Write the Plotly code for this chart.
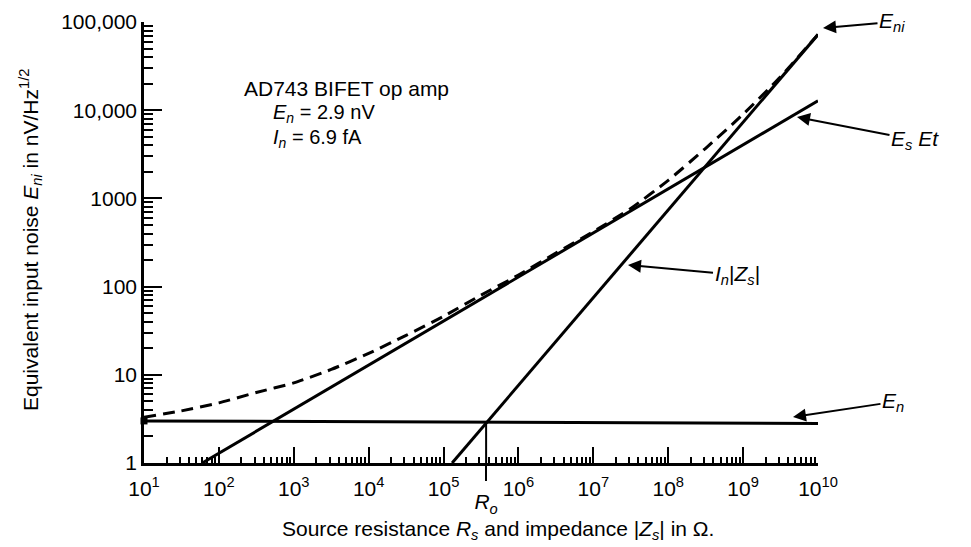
import plotly.graph_objects as go

# ---- data ----
en_x = [10, 1e10]
en_y = [3.0, 2.8]                      # E_n line (op-amp voltage noise)
et_x = [60, 1e10]
et_y = [1, 12800]                      # thermal noise E_t
in_x = [1.3e5, 1e10]
in_y = [1, 72000]                      # I_n|Z_s|
eni_x = [10, 31.6, 100, 316, 1000, 3162, 1e4, 3.16e4, 1e5, 3.16e5, 1e6,
         3.16e6, 1e7, 3.16e7, 1e8, 3.16e8, 1e9, 3.16e9, 1e10]
eni_y = [3.3, 3.9, 4.8, 6.3, 8.1, 11.5, 17.5, 28, 46, 80, 135,
         240, 420, 770, 1600, 3700, 9000, 24000, 72000]   # total E_ni (dashed)
ro_x = [3.7e5, 3.7e5]
ro_y = [2.9, 1]

y_tickvals = [1, 10, 100, 1000, 10000, 100000]
y_ticktext = ["1", "10", "100", "1000", "10,000", "100,000"]
x_tickvals = [10 ** e for e in range(1, 11)]
x_ticktext = [f"10<sup>{e}</sup>" for e in range(1, 11)]

FONT = "Liberation Sans"
FS = 21
BLACK = "black"

fig = go.Figure()
fig.add_trace(go.Scatter(x=en_x, y=en_y, mode="lines",
                         line=dict(color=BLACK, width=3), showlegend=False))
fig.add_trace(go.Scatter(x=en_x[:1], y=en_y[:1], mode="markers",
                         marker=dict(symbol="square", size=7, color=BLACK),
                         showlegend=False, cliponaxis=False))
fig.add_trace(go.Scatter(x=et_x, y=et_y, mode="lines",
                         line=dict(color=BLACK, width=3), showlegend=False))
fig.add_trace(go.Scatter(x=in_x, y=in_y, mode="lines",
                         line=dict(color=BLACK, width=3), showlegend=False))
fig.add_trace(go.Scatter(x=eni_x, y=eni_y, mode="lines",
                         line=dict(color=BLACK, width=3, dash="12px,7px",
                                   shape="spline", smoothing=0.6),
                         showlegend=False))
fig.add_trace(go.Scatter(x=ro_x, y=ro_y, mode="lines",
                         line=dict(color=BLACK, width=2), showlegend=False))
# invisible trace for the secondary x axis (R_o tick)
fig.add_trace(go.Scatter(x=ro_x[:1], y=ro_y[:1], xaxis="x2", mode="markers",
                         marker=dict(opacity=0), showlegend=False,
                         hoverinfo="skip"))

minor_x = [m * 10 ** e for e in range(1, 10) for m in range(2, 10)]
minor_y = [m * 10 ** e for e in range(0, 5) for m in range(2, 10)]

fig.update_layout(
    width=971, height=547,
    margin=dict(l=144, r=153, t=22, b=84),
    paper_bgcolor="white", plot_bgcolor="white",
    font=dict(family=FONT, size=FS, color=BLACK),
    xaxis=dict(type="log", range=[1, 10], showgrid=False, zeroline=False,
               automargin=False,
               showline=True, linecolor=BLACK, linewidth=2.5,
               tickmode="array", tickvals=x_tickvals, ticktext=x_ticktext,
               ticks="inside", ticklen=16, tickwidth=1.5, tickcolor=BLACK,
               ticklabelstandoff=5,
               minor=dict(tickmode="array", tickvals=minor_x, ticks="inside",
                          ticklen=6, tickwidth=1.5, tickcolor=BLACK,
                          showgrid=False)),
    xaxis2=dict(type="log", range=[1, 10], overlaying="x", side="bottom",
                automargin=False,
                showgrid=False, zeroline=False, showline=False,
                tickmode="array", tickvals=ro_x[:1],
                ticktext=["<i>R<sub>o</sub></i>"],
                ticks="outside", ticklen=17, tickwidth=1.5, tickcolor=BLACK,
                ticklabelstandoff=3),
    yaxis=dict(type="log", range=[0, 5], showgrid=False, zeroline=False,
               automargin=False,
               showline=True, linecolor=BLACK, linewidth=2.5,
               tickmode="array", tickvals=y_tickvals, ticktext=y_ticktext,
               ticks="inside", ticklen=18, tickwidth=1.5, tickcolor=BLACK,
               minor=dict(tickmode="array", tickvals=minor_y, ticks="inside",
                          ticklen=9, tickwidth=1.5, tickcolor=BLACK,
                          showgrid=False)),
)

def px(xp):
    return (xp - 144) / 674.0

def py(yp):
    return (463 - yp) / 441.0

# axis titles
fig.add_annotation(x=px(498), y=py(530), xref="paper", yref="paper",
                   text="Source resistance <i>R<sub>s</sub></i> and impedance |<i>Z<sub>s</sub></i>| in Ω.",
                   showarrow=False, font=dict(size=21),
                   xanchor="center", yanchor="middle")
fig.add_annotation(x=px(31), y=py(240), xref="paper", yref="paper",
                   text="Equivalent input noise <i>E<sub>ni</sub></i> in nV/Hz<sup>1/2</sup>",
                   showarrow=False, font=dict(size=21), textangle=-90,
                   xanchor="center", yanchor="middle")

# text block
TB = 20
fig.add_annotation(x=px(242), y=py(89), xref="paper", yref="paper",
                   text="AD743 BIFET op amp", showarrow=False,
                   font=dict(size=21), xanchor="left", yanchor="middle")
fig.add_annotation(x=px(271), y=py(113), xref="paper", yref="paper",
                   text="<i>E<sub>n</sub></i> = 2.9 nV", showarrow=False,
                   font=dict(size=TB), xanchor="left", yanchor="middle")
fig.add_annotation(x=px(271), y=py(138), xref="paper", yref="paper",
                   text="<i>I<sub>n</sub></i> = 6.9 fA", showarrow=False,
                   font=dict(size=TB), xanchor="left", yanchor="middle")

arrow = dict(showarrow=True, arrowhead=2, arrowsize=1.3, arrowwidth=2,
             arrowcolor=BLACK, xref="paper", yref="paper")
fig.add_annotation(x=px(823), y=py(28), ax=69, ay=-6,
                   text="<i>E<sub>ni</sub></i>", **arrow)
fig.add_annotation(x=px(797), y=py(117), ax=118, ay=23,
                   text="<i>E<sub>s</sub></i> <i>Et</i>", **arrow)
fig.add_annotation(x=px(628), y=py(265), ax=109, ay=10,
                   text="<i>I<sub>n</sub></i>|<i>Z<sub>s</sub></i>|", **arrow)
fig.add_annotation(x=px(793), y=py(417), ax=100, ay=-15,
                   text="<i>E<sub>n</sub></i>", **arrow)

fig.write_html("out.html", config={"displayModeBar": False},
               post_script="document.body.style.margin='0';document.body.style.padding='0';")
